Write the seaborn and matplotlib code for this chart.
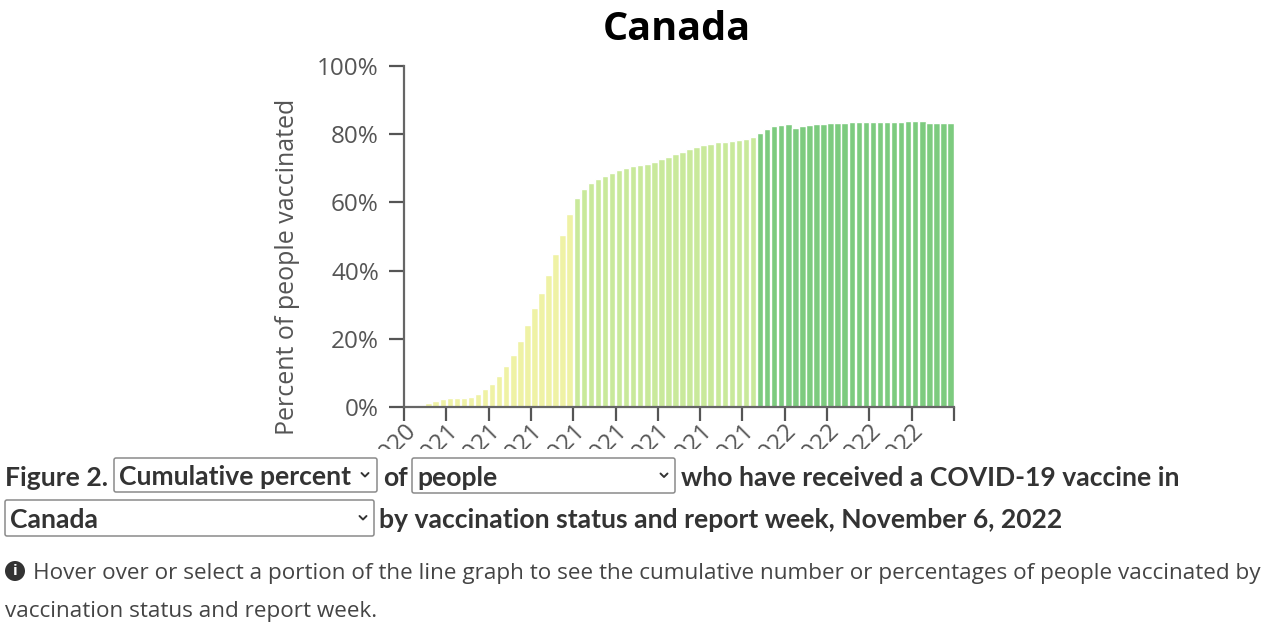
import matplotlib
matplotlib.use('Agg')
import matplotlib.pyplot as plt
from matplotlib.patches import FancyBboxPatch, Circle
from matplotlib.lines import Line2D
from matplotlib.transforms import Bbox
import pandas as pd
import seaborn as sns

W, H = 1264, 624

# cumulative percent per report week
yellow_values = [0, 0, 0.6, 1.1, 1.7, 2.2, 2.5, 2.7, 2.7, 3.0, 3.8, 5.2, 6.6, 9.1, 12.0, 15.2,
                 19.3, 24.1, 29.1, 33.5, 38.6, 45.0, 50.3, 56.5]
light_values = [61.2, 63.9, 65.6, 66.8, 67.7, 68.5, 69.4, 70.1, 70.7, 71.1, 71.4, 71.9, 72.6,
                73.2, 74.1, 74.9, 75.6, 76.1, 76.7, 77.2, 77.6, 77.8, 78.0, 78.3, 78.5, 79.1]
dark_values = [80.4, 81.5, 82.3, 82.8, 82.9, 81.8, 82.3, 82.7, 82.9, 83.1, 83.2, 83.3, 83.4,
               83.5, 83.5, 83.5, 83.6, 83.6, 83.6, 83.7, 83.7, 83.8, 83.8, 83.9, 83.2, 83.3,
               83.3, 83.4]
status_names = ['early', 'middle', 'late']
status_colors = ['#EFF2A5', '#C9E99B', '#7DCB7F']
y_ticks = [0, 20, 40, 60, 80, 100]
y_tick_labels = ['0%', '20%', '40%', '60%', '80%', '100%']
x_tick_labels = ['2020'] + ['2021'] * 8 + ['2022'] * 4 + ['']

values = yellow_values + light_values + dark_values
status = ['early'] * len(yellow_values) + ['middle'] * len(light_values) + ['late'] * len(dark_values)
df = pd.DataFrame({'week': list(range(len(values))), 'pct': values, 'status': status})

sns.set_theme(style='white')
plt.rcParams['font.family'] = ['Open Sans', 'DejaVu Sans']

fig = plt.figure(figsize=(W / 100, H / 100), dpi=100)
ax = fig.add_axes([404 / W, 1 - 407 / H, 550 / W, 341 / H])


def fx(x):
    return x / W


def fy(y):
    return 1 - y / H


sns.barplot(data=df, x='week', y='pct', hue='status', hue_order=status_names,
            palette=dict(zip(status_names, status_colors)), dodge=False, width=0.92,
            saturation=1, legend=False, ax=ax)
ax.set_xlim(-0.5, 77.5)
ax.set_ylim(0, 100)
ax.set_xlabel('')
ax.set_ylabel('Percent of people vaccinated', fontsize=18, color='#555555')
ax.yaxis.set_label_coords(-0.19, 0.41)
ax.set_yticks(y_ticks)
ax.set_yticklabels(y_tick_labels, fontsize=17.5, color='#555555')
ax.set_xticks([-0.5 + 6 * k for k in range(13)] + [77.5])
ax.set_xticklabels(x_tick_labels, fontsize=17.5, color='#555555', rotation=45,
                   ha='right', rotation_mode='anchor')
ax.tick_params(axis='y', length=11, width=1.6, color='#555555', pad=7, left=True)
ax.tick_params(axis='x', length=10, width=1.6, color='#555555', pad=-1.5, bottom=True)
sns.despine(ax=ax)
for side in ['left', 'bottom']:
    ax.spines[side].set_color('#666666')
    ax.spines[side].set_linewidth(1.6)

# the tick labels are cut off by the bottom of the chart area
clip = Bbox.from_extents(0, H - 449, W, H)
for lab in ax.get_xticklabels():
    lab.set_clip_on(True)
    lab.set_clip_box(clip)

fig.text(fx(677), fy(30), 'Canada', fontsize=28.5, fontweight='bold', color='black',
         ha='center', va='center')

# dropdowns in the caption
for x0, y0, x1, y1, label, chev in [(114, 458, 377, 492, 'Cumulative percent', 365),
                                    (412, 458, 675, 493, 'people', 664),
                                    (5, 500, 374, 536, 'Canada', 363)]:
    fig.add_artist(FancyBboxPatch((x0, H - y1), x1 - x0, y1 - y0, boxstyle='round,pad=0,rounding_size=2',
                                  transform=None, fc='white', ec='#8a8a8a', lw=1.1))
    fig.text(fx(x0 + 5), fy((y0 + y1) / 2 + 2), label, fontsize=19.1, family='Lato', fontweight='bold',
             color='#333333', ha='left', va='center')
    fig.add_artist(Line2D([fx(chev - 3.5), fx(chev), fx(chev + 3.5)],
                          [fy((y0 + y1) / 2 - 2), fy((y0 + y1) / 2 + 1.5), fy((y0 + y1) / 2 - 2)],
                          color='#333333', lw=1.4))

cap = dict(fontsize=19.1, family='Lato', fontweight='bold', color='#333333', ha='left', va='center')
fig.text(fx(5), fy(478), 'Figure 2.', **cap)
fig.text(fx(383), fy(478), 'of', **cap)
fig.text(fx(681), fy(478), 'who have received a COVID-19 vaccine in', **cap)
fig.text(fx(379), fy(520), 'by vaccination status and report week, November 6, 2022', **cap)

# info note
fig.add_artist(Circle((15, H - 571), 10, transform=None, fc='#333333', ec='none'))
fig.text(fx(15), fy(571), 'i', fontsize=11, fontweight='bold', color='white', ha='center', va='center')
note = dict(fontsize=16.2, color='#444444', ha='left', va='center')
fig.text(fx(33), fy(573), 'Hover over or select a portion of the line graph to see the cumulative number or percentages of people vaccinated by', **note)
fig.text(fx(5), fy(611), 'vaccination status and report week.', **note)

fig.savefig('out.png', dpi=100)
